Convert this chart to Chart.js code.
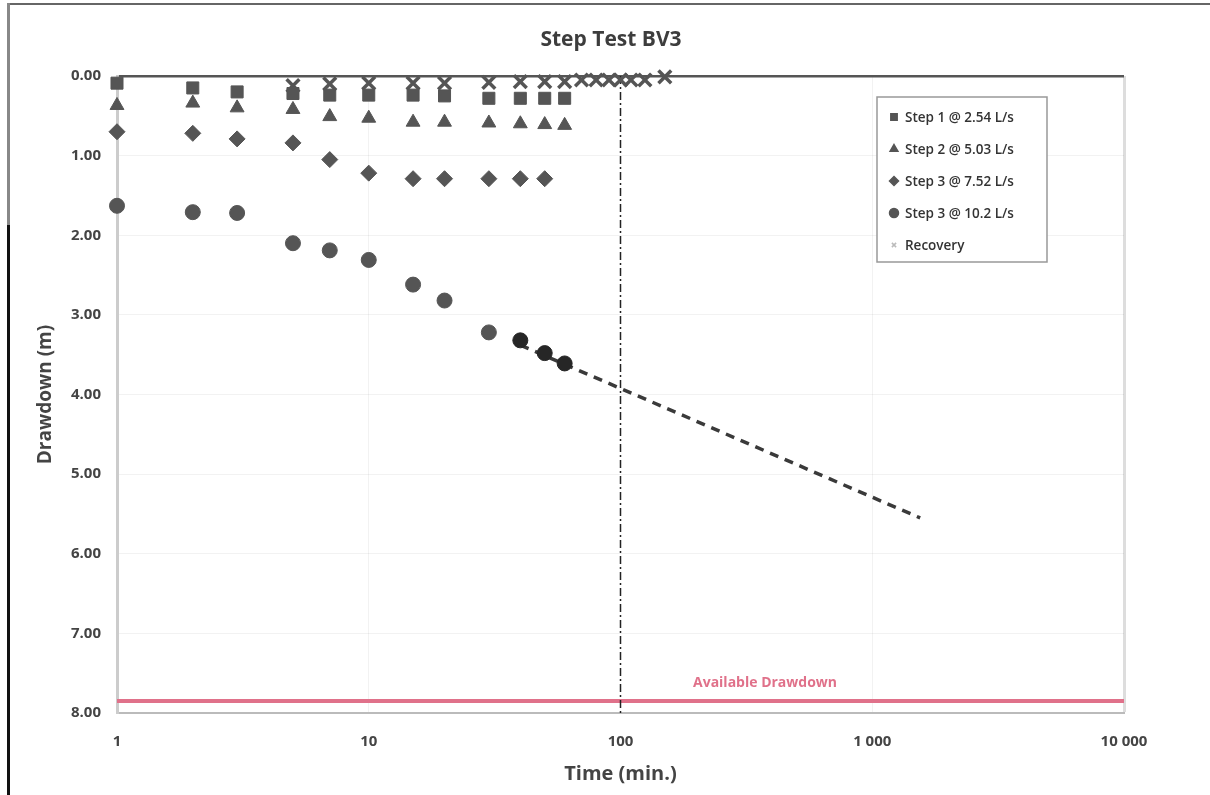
<!DOCTYPE html>
<html>
<head>
<meta charset="utf-8">
<script src="https://cdn.jsdelivr.net/npm/chart.js@4/dist/chart.umd.min.js"></script>
<style>
    body { margin: 0; background: #fff; }
    #wrap { position: relative; width: 1210px; height: 795px; }
    #chart { position: absolute; left: 0; top: 0; }
    .edge { position: absolute; }
</style>
</head>
<body>
<div id="wrap">
    <canvas id="chart" width="1210" height="795"></canvas>
    <div class="edge" style="left:7px;top:3px;width:1203px;height:2px;background:#666;"></div>
    <div class="edge" style="left:7px;top:3px;width:3px;height:222px;background:#888;"></div>
    <div class="edge" style="left:7px;top:225px;width:3px;height:570px;background:#111;"></div>
</div>
<script>
// time since start of each step (min.)
var stepTimes = [1, 2, 3, 5, 7, 10, 15, 20, 30, 40, 50, 60];
var step3Times = [1, 2, 3, 5, 7, 10, 15, 20, 30, 40, 50];
var recoveryTimes = [5, 7, 10, 15, 20, 30, 40, 50, 60, 70, 80, 90, 100, 110, 125, 150];

// drawdown (m)
var step1 = [0.09, 0.15, 0.20, 0.22, 0.24, 0.24, 0.24, 0.25, 0.28, 0.28, 0.28, 0.28];
var step2 = [0.37, 0.34, 0.40, 0.42, 0.51, 0.53, 0.58, 0.58, 0.59, 0.60, 0.61, 0.62];
var step3 = [0.70, 0.72, 0.79, 0.84, 1.05, 1.22, 1.29, 1.29, 1.29, 1.29, 1.29];
var step4 = [1.63, 1.71, 1.72, 2.10, 2.19, 2.31, 2.62, 2.82, 3.22, 3.32, 3.48, 3.61];
var recovery = [0.12, 0.10, 0.09, 0.09, 0.09, 0.08, 0.07, 0.07, 0.07, 0.05, 0.05, 0.05, 0.05, 0.05, 0.05, 0.01];

// extrapolation of the last step, end of pumping, available drawdown
var trendTimes = [40, 1550];
var trendDrawdown = [3.38, 5.55];
var pumpStopTime = 100;
var availableDrawdown = 7.85;

var xTicks = [1, 10, 100, 1000, 10000];
var seriesLabels = ['Step 1 @ 2.54 L/s', 'Step 2 @ 5.03 L/s', 'Step 3 @ 7.52 L/s', 'Step 3 @ 10.2 L/s', 'Recovery'];

function pts(xs, ys) {
    return xs.map(function(x, i) { return { x: x, y: ys[i] }; });
}

var FONT = "'Open Sans', 'DejaVu Sans', sans-serif";
var markGrey = '#555';
var pink = '#e0718a';

var step4Colors = stepTimes.map(function(t) { return t >= 40 ? '#262626' : markGrey; });

var extras = {
    id: 'extras',
    afterDraw: function(chart) {
        var ctx = chart.ctx;
        var xs = chart.scales.x, ys = chart.scales.y;
        ctx.save();

        ctx.fillStyle = '#3d3d3d';
        ctx.font = 'bold 21px ' + FONT;
        ctx.textAlign = 'center';
        ctx.textBaseline = 'middle';
        ctx.fillText('Step Test BV3', 611, 40);

        ctx.fillStyle = pink;
        ctx.font = 'bold 14px ' + FONT;
        ctx.fillText('Available Drawdown', xs.getPixelForValue(375), ys.getPixelForValue(availableDrawdown) - 18);

        // legend box
        var bx = 877, by = 97, bw = 170, bh = 165;
        ctx.fillStyle = '#fff';
        ctx.fillRect(bx, by, bw, bh);
        ctx.strokeStyle = '#999';
        ctx.lineWidth = 1.5;
        ctx.strokeRect(bx, by, bw, bh);

        ctx.textAlign = 'left';
        ctx.font = '600 13.5px ' + FONT;
        for (var i = 0; i < 5; i++) {
            var ds = chart.data.datasets[i];
            var y = by + 20 + i * 32;
            var c = i === 4 ? '#bbb' : markGrey;
            ctx.fillStyle = c;
            ctx.strokeStyle = c;
            Chart.helpers.drawPoint(ctx, {
                pointStyle: ds.pointStyle,
                radius: i === 4 ? 3 : 4.5,
                rotation: 0,
                borderWidth: i === 4 ? 1.5 : 1
            }, bx + 17, y);
            ctx.fillStyle = '#333';
            ctx.fillText(seriesLabels[i], bx + 28, y + 1);
        }
        ctx.restore();
    }
};

var ctx = document.getElementById('chart').getContext('2d');

var chart = new Chart(ctx, {
    type: 'scatter',
    data: {
        datasets: [{
            label: seriesLabels[0],
            data: pts(stepTimes, step1),
            pointStyle: 'rect',
            pointRadius: 8.5,
            backgroundColor: markGrey,
            borderColor: markGrey,
            clip: false
        }, {
            label: seriesLabels[1],
            data: pts(stepTimes, step2),
            pointStyle: 'triangle',
            pointRadius: 8,
            backgroundColor: markGrey,
            borderColor: markGrey,
            clip: false
        }, {
            label: seriesLabels[2],
            data: pts(step3Times, step3),
            pointStyle: 'rectRot',
            pointRadius: 8,
            backgroundColor: markGrey,
            borderColor: markGrey,
            clip: false
        }, {
            label: seriesLabels[3],
            data: pts(stepTimes, step4),
            pointStyle: 'circle',
            pointRadius: 7.5,
            backgroundColor: step4Colors,
            borderColor: step4Colors,
            clip: false
        }, {
            label: seriesLabels[4],
            data: pts(recoveryTimes, recovery),
            pointStyle: 'crossRot',
            pointRadius: 9,
            borderWidth: 3.5,
            backgroundColor: markGrey,
            borderColor: markGrey,
            clip: false
        }, {
            label: 'trend',
            type: 'line',
            data: pts(trendTimes, trendDrawdown),
            borderColor: '#3a3a3a',
            borderWidth: 3.5,
            borderDash: [9, 7],
            pointRadius: 0
        }, {
            label: 'pump stop',
            type: 'line',
            data: pts([pumpStopTime, pumpStopTime], [0, 8]),
            borderColor: '#222',
            borderWidth: 1.5,
            borderDash: [8, 3, 2, 3],
            pointRadius: 0
        }, {
            label: 'Available Drawdown',
            type: 'line',
            data: pts([1, 10000], [availableDrawdown, availableDrawdown]),
            borderColor: pink,
            borderWidth: 4,
            pointRadius: 0
        }]
    },
    options: {
        responsive: false,
        animation: false,
        layout: { padding: { top: 76, right: 86, left: 0, bottom: 0 } },
        plugins: {
            legend: { display: false },
            tooltip: { enabled: false }
        },
        scales: {
            x: {
                type: 'logarithmic',
                min: 1,
                max: 10000,
                afterBuildTicks: function(scale) {
                    scale.ticks = xTicks.map(function(v) { return { value: v }; });
                },
                afterFit: function(scale) { scale.height = 82; },
                ticks: {
                    autoSkip: false,
                    maxRotation: 0,
                    padding: 20,
                    color: '#444',
                    font: { family: FONT, size: 15, weight: 'bold' },
                    callback: function(v) {
                        return String(v).replace(/\B(?=(\d{3})+(?!\d))/g, ' ');
                    }
                },
                grid: {
                    drawTicks: false,
                    color: function(c) {
                        if (c.tick && c.tick.value === 100) return 'rgba(0,0,0,0)';
                        if (c.tick && c.tick.value === 10000) return '#ddd';
                        return 'rgba(0,0,0,0.05)';
                    },
                    lineWidth: function(c) { return c.tick && c.tick.value === 10000 ? 3 : 1; }
                },
                border: { color: '#bbb', width: 2 },
                title: {
                    display: true,
                    text: 'Time (min.)',
                    color: '#444',
                    font: { family: FONT, size: 20, weight: 'bold' },
                    padding: { top: 0, bottom: 9 }
                }
            },
            y: {
                reverse: true,
                min: 0,
                max: 8,
                afterFit: function(scale) { scale.width = 117; },
                ticks: {
                    stepSize: 1,
                    padding: 16,
                    color: '#444',
                    font: { family: FONT, size: 15, weight: 'bold' },
                    callback: function(v) { return Number(v).toFixed(2); }
                },
                grid: {
                    drawTicks: false,
                    color: function(c) {
                        return c.tick && c.tick.value === 0 ? '#555' : 'rgba(0,0,0,0.05)';
                    },
                    lineWidth: function(c) { return c.tick && c.tick.value === 0 ? 2.5 : 1; }
                },
                border: { color: '#ccc', width: 3 },
                title: {
                    display: true,
                    text: 'Drawdown (m)',
                    color: '#444',
                    font: { family: FONT, size: 19, weight: 'bold' },
                    padding: { top: 34, bottom: 0 }
                }
            }
        }
    },
    plugins: [extras]
});
</script>
</body>
</html>
